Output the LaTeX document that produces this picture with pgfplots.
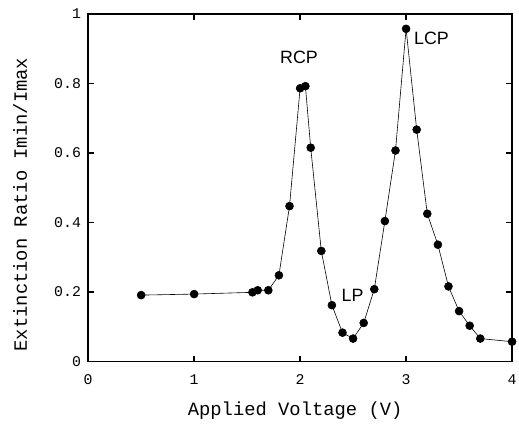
\documentclass[border=0pt]{standalone}
\usepackage{fontspec}
\setmainfont{Liberation Mono}
\newfontfamily\sans{Liberation Sans}
\usepackage{pgfplots}
\pgfplotsset{compat=1.18}
\begin{document}
\begin{tikzpicture}
\begin{axis}[
  scale only axis, width=428pt, height=351pt,
  xmin=0, xmax=4, ymin=0, ymax=1,
  xtick={0,1,2,3,4}, ytick={0,0.2,0.4,0.6,0.8,1},
  xticklabels={0,1,2,3,4}, yticklabels={0,0.2,0.4,0.6,0.8,1},
  tick align=inside, major tick length=6pt,
  line width=1.8pt,
  axis line style={line width=1.8pt},
  every tick/.style={black, line width=1.8pt},
  ticklabel style={font=\fontsize{15}{17}\selectfont},
  /pgf/number format/assume math mode=true,
  xticklabel style={yshift=-9pt},
  yticklabel style={xshift=-3pt},
  xlabel={Applied Voltage (V)},
  ylabel={Extinction Ratio Imin/Imax},
  label style={font=\fontsize{19}{21}\selectfont},
  xlabel style={yshift=-10pt, xshift=-5pt},
  ylabel style={yshift=20pt, xshift=-17pt},
  clip=false,
]
\addplot[black, line width=0.6pt, mark=*, mark size=4pt, mark options={fill=black, line width=0.6pt}] coordinates {
(0.5,0.191) (1.0,0.194) (1.55,0.199) (1.6,0.205) (1.7,0.205) (1.8,0.248)
(1.9,0.447) (2.0,0.786) (2.05,0.792) (2.1,0.615) (2.2,0.318) (2.3,0.162)
(2.4,0.083) (2.5,0.066) (2.6,0.111) (2.7,0.208) (2.8,0.404) (2.9,0.607)
(3.0,0.957) (3.1,0.667) (3.2,0.425) (3.3,0.336) (3.4,0.216) (3.5,0.145)
(3.6,0.103) (3.7,0.066) (4.0,0.057)
};
\node[font=\sans\fontsize{18}{20}\selectfont] at (axis cs:1.99,0.875) {RCP};
\node[font=\sans\fontsize{18}{20}\selectfont] at (axis cs:3.24,0.93) {LCP};
\node[font=\sans\fontsize{18}{20}\selectfont] at (axis cs:2.495,0.19) {LP};
\end{axis}
\pgfresetboundingbox
\useasboundingbox (current axis.south west) ++(-89pt,-71pt) rectangle ++(524pt,436pt);
\end{tikzpicture}
\end{document}
